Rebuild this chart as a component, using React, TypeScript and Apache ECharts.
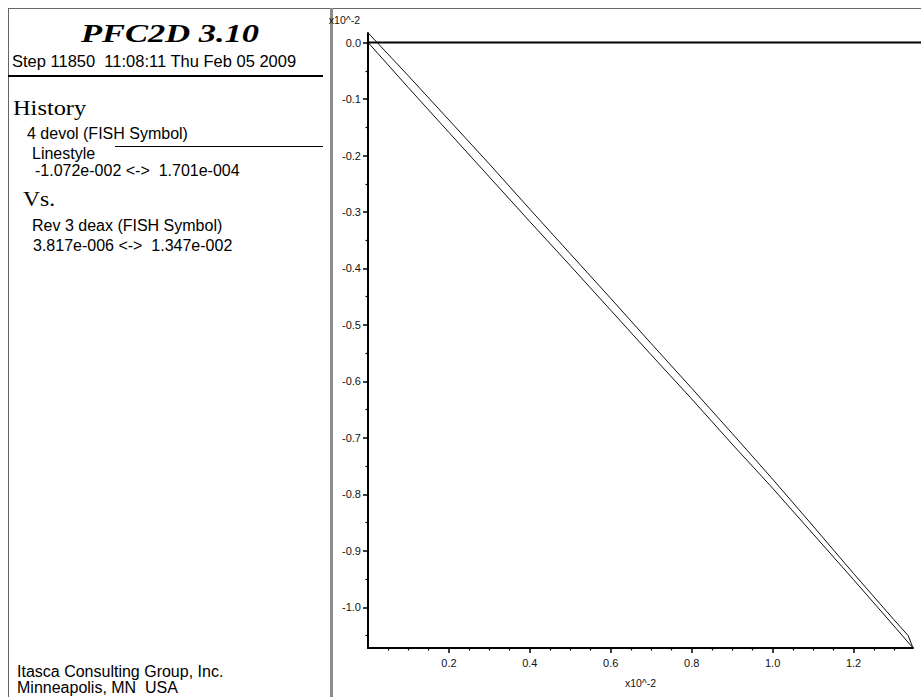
import React, { useEffect, useRef } from "react";
import * as echarts from "echarts";

// History 4 "devol" (y, x10^-2) vs history 3 "deax" (x, x10^-2)
const loadX = [0.0004, 0.1, 0.2, 0.3, 0.4, 0.5, 0.6, 0.7, 0.8, 0.9, 1.0, 1.1, 1.2, 1.3, 1.347];
const loadY = [0, -0.080, -0.159, -0.238, -0.317, -0.395, -0.474, -0.553, -0.631, -0.711, -0.789, -0.870, -0.951, -1.033, -1.072];
const unloadX = [1.347, 1.335, 1.3, 1.2, 1.1, 1.0, 0.9, 0.8, 0.7, 0.6, 0.5, 0.4, 0.3, 0.2, 0.1, 0.0004];
const unloadY = [-1.072, -1.050, -1.022, -0.940, -0.856, -0.773, -0.692, -0.612, -0.533, -0.453, -0.374, -0.295, -0.215, -0.137, -0.059, 0.017];

const xMin = 0;
const xMax = 1.347;
const yMin = -1.072;
const yMax = 0.017;

const xMajorTicks = [0.2, 0.4, 0.6, 0.8, 1.0, 1.2];
const xMinorTicks = [0.05, 0.1, 0.15, 0.25, 0.3, 0.35, 0.45, 0.5, 0.55, 0.65, 0.7, 0.75, 0.85, 0.9, 0.95, 1.05, 1.1, 1.15, 1.25, 1.3];
const yMajorTicks = [0, -0.1, -0.2, -0.3, -0.4, -0.5, -0.6, -0.7, -0.8, -0.9, -1.0];
const yMinorTicks = [-0.05, -0.15, -0.25, -0.35, -0.45, -0.55, -0.65, -0.75, -0.85, -0.95, -1.05];

const axisUnit = "x10^-2";

const titleText = "PFC2D 3.10";
const stepText = "Step 11850  11:08:11 Thu Feb 05 2009";
const historyHeading = "History";
const yHistoryName = "4 devol (FISH Symbol)";
const linestyleLabel = "Linestyle";
const yRangeText = "-1.072e-002 <->  1.701e-004";
const vsHeading = "Vs.";
const xHistoryName = "Rev 3 deax (FISH Symbol)";
const xRangeText = "3.817e-006 <->  1.347e-002";
const footerLines = ["Itasca Consulting Group, Inc.", "Minneapolis, MN  USA"];

const SANS = '"Liberation Sans", Arial, Helvetica, sans-serif';
const SERIF = '"Liberation Serif", "Times New Roman", serif';

function sansText(id: string, text: string, x: number, y: number, size = 16) {
  return {
    id,
    type: "text",
    x,
    y,
    silent: true,
    style: { text, x: 0, y: 0, fill: "#000", fontSize: size, fontFamily: SANS, align: "left", verticalAlign: "middle" },
  };
}

export default function App() {
  const ref = useRef<HTMLDivElement>(null);

  useEffect(() => {
    if (!ref.current) return;
    const chart = echarts.init(ref.current, null, { renderer: "svg" });

    const elements: any[] = [
      { id: "bTop", type: "line", silent: true, shape: { x1: 8, y1: 8.5, x2: 921, y2: 8.5 }, style: { stroke: "#666", lineWidth: 1 } },
      { id: "bLeft", type: "line", silent: true, shape: { x1: 8.5, y1: 8, x2: 8.5, y2: 697 }, style: { stroke: "#666", lineWidth: 1 } },
      { id: "divider", type: "line", silent: true, shape: { x1: 331.5, y1: 8, x2: 331.5, y2: 697 }, style: { stroke: "#8c8c8c", lineWidth: 3 } },
      {
        id: "title",
        type: "text",
        x: 170,
        y: 33.5,
        scaleX: 1.38,
        silent: true,
        style: { text: titleText, x: 0, y: 0, fill: "#000", fontSize: 25, fontWeight: "bold", fontStyle: "italic", fontFamily: SERIF, align: "center", verticalAlign: "middle" },
      },
      sansText("step", stepText, 12, 60.5, 16.5),
      { id: "rule1", type: "line", silent: true, shape: { x1: 8, y1: 76, x2: 323, y2: 76 }, style: { stroke: "#000", lineWidth: 2 } },
      {
        id: "hist",
        type: "text",
        x: 13,
        y: 108.5,
        scaleX: 1.22,
        silent: true,
        style: { text: historyHeading, x: 0, y: 0, fill: "#000", fontSize: 20, fontFamily: SERIF, align: "left", verticalAlign: "middle" },
      },
      sansText("yname", yHistoryName, 27, 133.5),
      sansText("ls", linestyleLabel, 32, 153),
      { id: "lsSample", type: "line", silent: true, shape: { x1: 115, y1: 146.5, x2: 323, y2: 146.5 }, style: { stroke: "#000", lineWidth: 1 } },
      sansText("yrange", yRangeText, 35, 170.5),
      {
        id: "vs",
        type: "text",
        x: 23,
        y: 200,
        scaleX: 1.18,
        silent: true,
        style: { text: vsHeading, x: 0, y: 0, fill: "#000", fontSize: 20, fontFamily: SERIF, align: "left", verticalAlign: "middle" },
      },
      sansText("xname", xHistoryName, 32, 225),
      sansText("xrange", xRangeText, 33, 245),
      sansText("foot1", footerLines[0], 17, 671),
      sansText("foot2", footerLines[1], 17, 687.5),
    ];

    const tickLabelStyle = { fontSize: 11, color: "#111", fontFamily: SANS };
    const fmt = (v: number) => v.toFixed(1);

    const option: any = {
      animation: false,
      backgroundColor: "#fff",
      grid: { left: 368, right: 8, top: 33, bottom: 49, containLabel: false, outerBoundsMode: "none" },
      xAxis: [
        {
          type: "value",
          min: xMin,
          max: xMax,
          position: "bottom",
          name: axisUnit,
          nameLocation: "middle",
          nameGap: 29,
          nameTextStyle: { ...tickLabelStyle, fontSize: 10.5 },
          axisLine: { show: true, onZero: false, lineStyle: { color: "#000", width: 2 } },
          axisTick: { show: true, inside: false, length: 5, customValues: xMajorTicks, lineStyle: { color: "#000", width: 1.5 } },
          axisLabel: { show: true, customValues: xMajorTicks, formatter: fmt, margin: 9, ...tickLabelStyle },
          splitLine: { show: false },
        },
        {
          type: "value",
          min: xMin,
          max: xMax,
          position: "bottom",
          axisLine: { show: false, onZero: false },
          axisTick: { show: true, inside: false, length: 2.5, customValues: xMinorTicks, lineStyle: { color: "#000", width: 1.2 } },
          axisLabel: { show: false },
          splitLine: { show: false },
        },
      ],
      yAxis: [
        {
          type: "value",
          min: yMin,
          max: yMax,
          position: "left",
          name: axisUnit,
          nameLocation: "end",
          nameGap: 8,
          nameTextStyle: { ...tickLabelStyle, fontSize: 10.5, align: "right", padding: [0, 8, 0, 0] },
          axisLine: { show: true, onZero: false, lineStyle: { color: "#000", width: 2 } },
          axisTick: { show: true, inside: false, length: 5, customValues: yMajorTicks, lineStyle: { color: "#000", width: 1.5 } },
          axisLabel: { show: true, customValues: yMajorTicks, formatter: fmt, margin: 7, ...tickLabelStyle },
          splitLine: { show: false },
        },
        {
          type: "value",
          min: yMin,
          max: yMax,
          position: "left",
          axisLine: { show: false, onZero: false },
          axisTick: { show: true, inside: false, length: 2.5, customValues: yMinorTicks, lineStyle: { color: "#000", width: 1.2 } },
          axisLabel: { show: false },
          splitLine: { show: false },
        },
      ],
      series: [
        {
          name: "loading",
          type: "line",
          xAxisIndex: 0,
          yAxisIndex: 0,
          symbol: "none",
          silent: true,
          clip: false,
          lineStyle: { color: "#111", width: 1 },
          data: loadX.map((x, i) => [x, loadY[i]]),
        },
        {
          name: "unloading",
          type: "line",
          xAxisIndex: 0,
          yAxisIndex: 0,
          symbol: "none",
          silent: true,
          clip: false,
          lineStyle: { color: "#111", width: 1 },
          data: unloadX.map((x, i) => [x, unloadY[i]]),
        },
      ],
      graphic: { elements },
    };

    chart.setOption(option);

    const y0 = chart.convertToPixel({ yAxisIndex: 0 } as any, 0) as number;
    const x0 = chart.convertToPixel({ xAxisIndex: 0 } as any, xMin) as number;
    chart.setOption({
      graphic: {
        elements: [
          ...elements,
          { id: "zeroLine", type: "line", silent: true, z: 10, shape: { x1: x0, y1: y0, x2: 921, y2: y0 }, style: { stroke: "#000", lineWidth: 2 } },
        ],
      },
    });

    return () => chart.dispose();
  }, []);

  return (
    <div
      ref={ref}
      style={{ position: "fixed", left: 0, top: 0, width: 921, height: 697, background: "#fff" }}
    />
  );
}
